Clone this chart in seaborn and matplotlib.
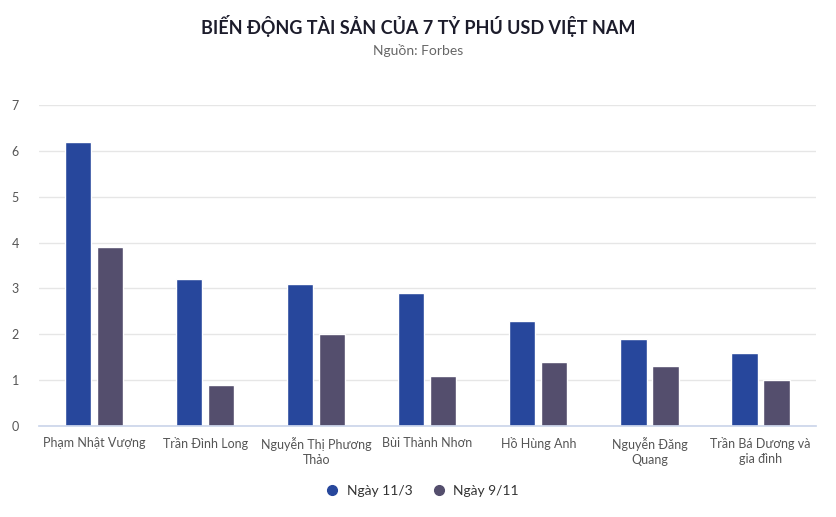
import matplotlib
matplotlib.use("Agg")
import matplotlib.pyplot as plt
import pandas as pd
import seaborn as sns
from matplotlib.lines import Line2D

# Dữ liệu (tỷ USD)
names = ["Phạm Nhật Vượng", "Trần Đình Long", "Nguyễn Thị Phương\nThảo",
         "Bùi Thành Nhơn", "Hồ Hùng Anh", "Nguyễn Đăng\nQuang",
         "Trần Bá Dương và\ngia đình"]
ngay_11_3 = [6.2, 3.2, 3.1, 2.9, 2.3, 1.9, 1.6]
ngay_9_11 = [3.9, 0.9, 2.0, 1.1, 1.4, 1.3, 1.0]
series = ["Ngày 11/3", "Ngày 9/11"]
colors = ["#27479c", "#544e6d"]

df = pd.DataFrame({"name": names * 2,
                   "value": ngay_11_3 + ngay_9_11,
                   "series": [series[0]] * len(names) + [series[1]] * len(names)})

sns.set_theme(style="white")
plt.rcParams["font.family"] = ["Lato", "DejaVu Sans"]

fig = plt.figure(figsize=(8.37, 5.17), dpi=100)
ax = fig.add_axes([0.046, 0.176, 0.929, 0.621])

sns.barplot(data=df, x="name", y="value", hue="series", palette=colors,
            width=0.576, gap=0.18, ax=ax, legend=False, saturation=1)

ax.set_ylim(0, 7)
ax.set_xlim(-0.5, len(names) - 0.5)
ax.set_yticks(range(0, 8))
ax.yaxis.grid(True, color="#e6e6e6", linewidth=1)
ax.set_axisbelow(True)
for s in ["top", "right", "left"]:
    ax.spines[s].set_visible(False)
ax.spines["bottom"].set_color("#ccd6eb")
ax.tick_params(axis="both", length=0, labelsize=9, colors="#555555")
ax.tick_params(axis="x", pad=8)
ax.tick_params(axis="y", pad=14)
ax.set_xlabel("")
ax.set_ylabel("")
for lbl in ax.get_xticklabels():
    lbl.set_linespacing(1.3)

fig.text(0.5, 0.95, "BIẾN ĐỘNG TÀI SẢN CỦA 7 TỶ PHÚ USD VIỆT NAM",
         ha="center", va="center", fontsize=13, fontweight="bold", color="#1c1c2b")
fig.text(0.5, 0.903, "Nguồn: Forbes", ha="center", va="center",
         fontsize=10, color="#666666")

handles = [Line2D([], [], marker="o", linestyle="", markersize=7,
                  markerfacecolor=c, markeredgecolor=c) for c in colors]
fig.legend(handles, series, loc="center", bbox_to_anchor=(0.5, 0.05), ncol=2,
           frameon=False, fontsize=10, handletextpad=0.05, columnspacing=0.9,
           labelcolor="#333333")

fig.savefig("out.png", dpi=100)
